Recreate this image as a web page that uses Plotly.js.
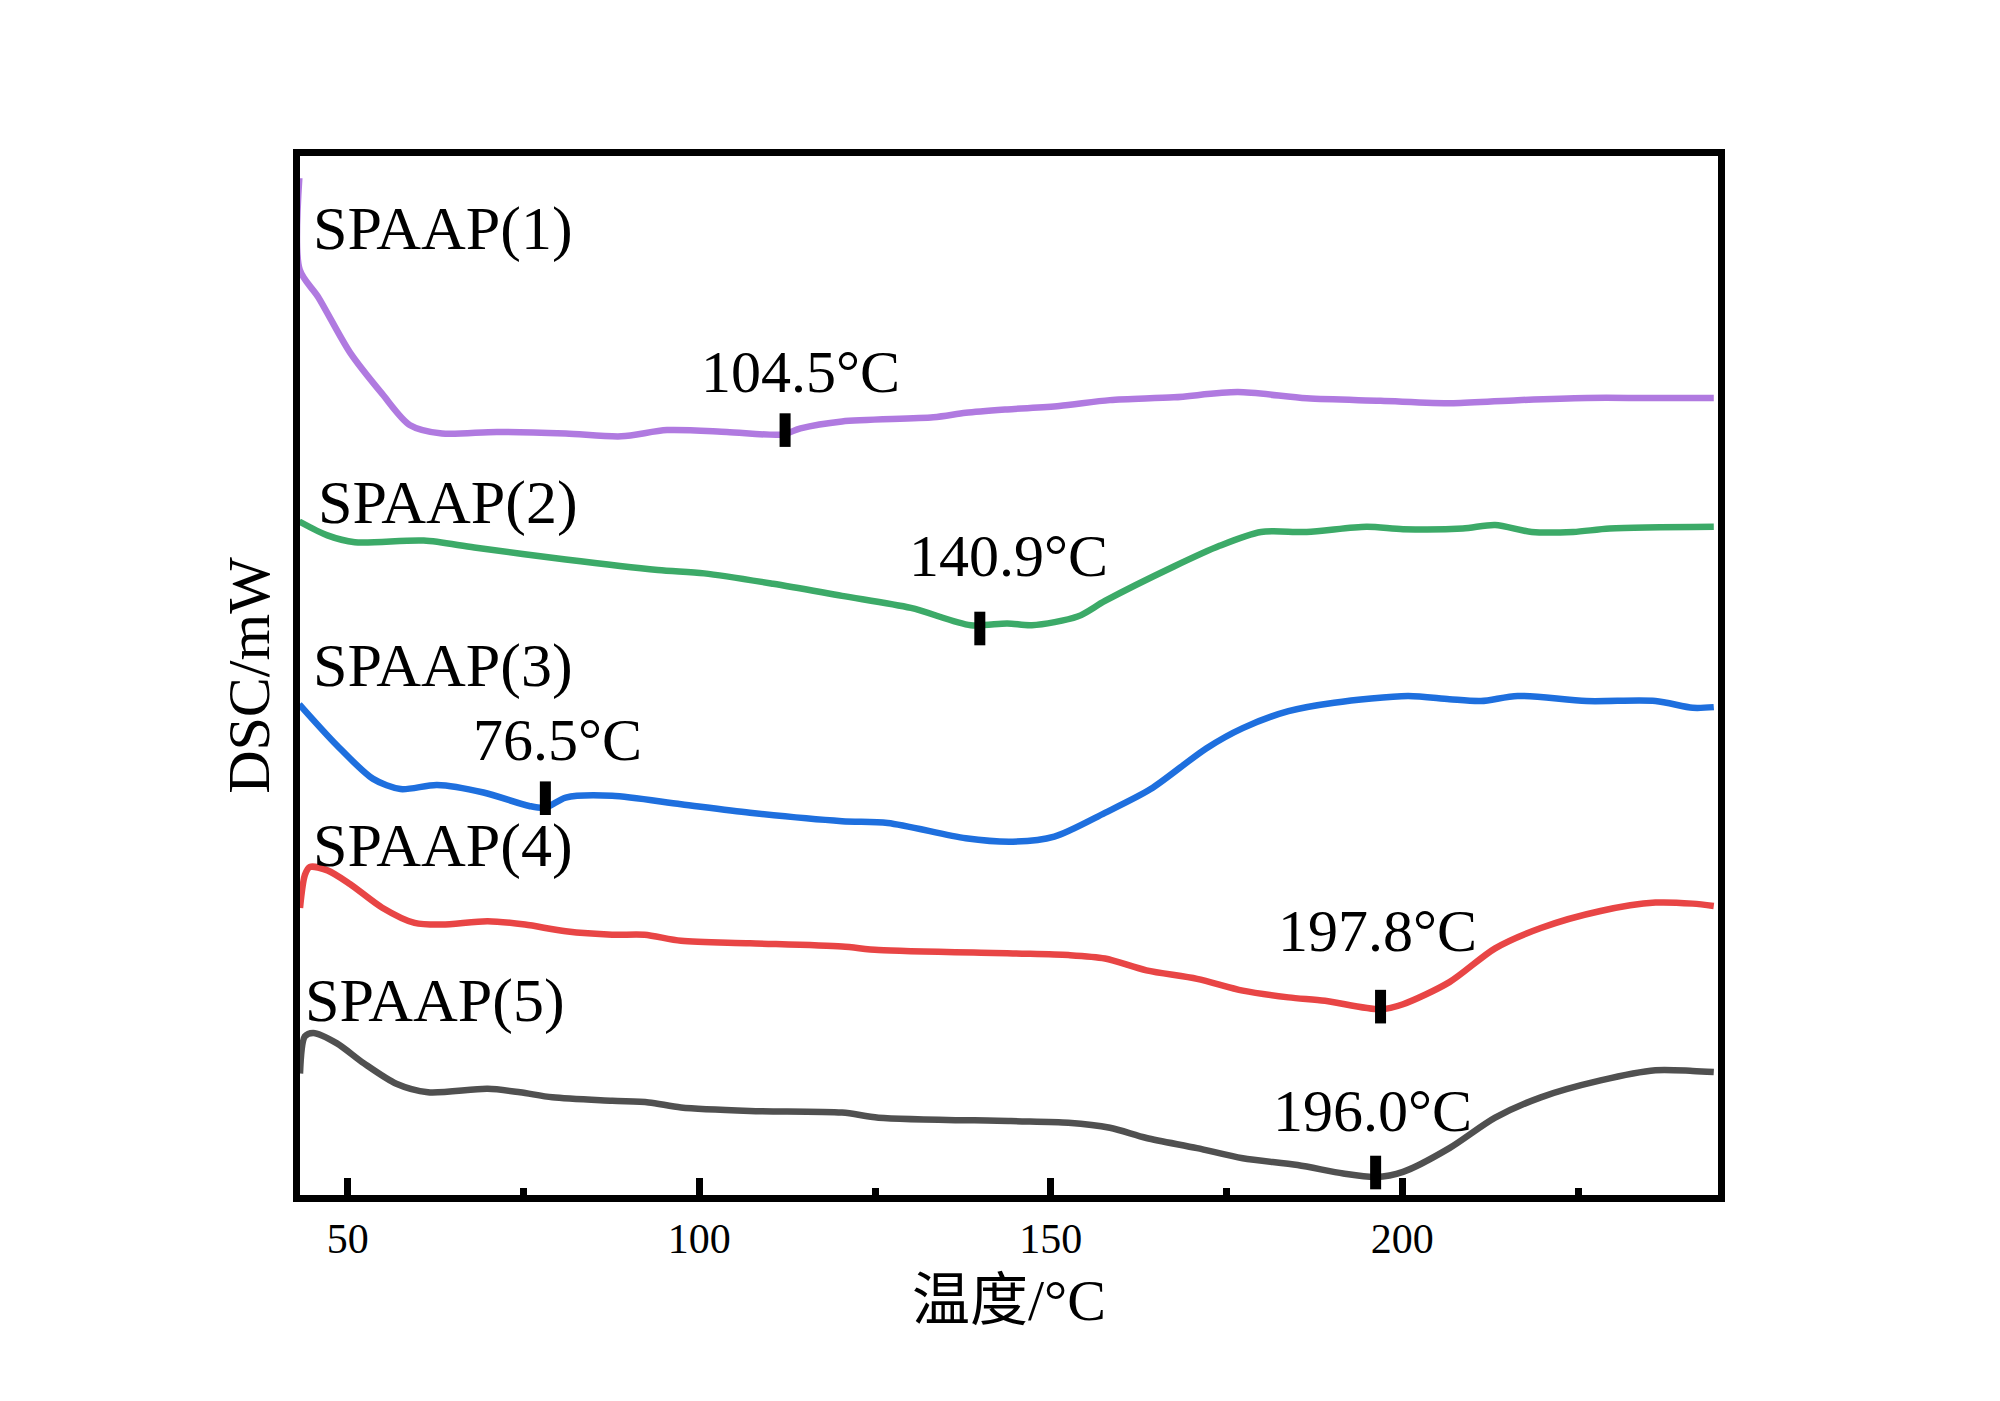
<!DOCTYPE html>
<html>
<head>
<meta charset="utf-8">
<script src="https://cdn.plot.ly/plotly-3.0.1.min.js"></script>
<style>html,body{margin:0;padding:0;background:#fff;}#chart{width:2000px;height:1401px;}</style>
</head>
<body>
<div id="chart"></div>
<script>
// Temperature (°C) and DSC signal (arbitrary offset units)
const t1 = [43.1,43.15,45.8,50.3,54.9,58.8,63.4,71.2,81.0,88.9,95.4,103.9,111.8,114.4,120.3,133.3,137.9,143.8,151.2,158.4,167.5,176.6,186.4,196.9,207.3,216.4,226.2,234.7,244.3];
const s1 = [800.6,728.6,706.8,663.4,630.7,606.3,599.5,600.8,599.5,597.3,602.2,600.8,598.7,603.6,609.0,612.3,615.8,618.5,621.2,625.8,628.0,632.1,627.2,625.3,623.4,625.8,627.5,627.5,627.5];

const t2 = [43.1,47.1,51.0,60.8,68.0,81.0,94.1,100.7,110.5,120.3,130.1,138.6,143.8,147.3,153.8,157.7,167.5,174.0,179.9,186.4,194.9,200.1,208.6,213.2,218.4,224.3,229.5,244.3];
const s2 = [530.2,519.3,513.9,515.2,509.8,500.3,492.1,489.4,481.2,471.7,462.2,448.6,450.0,448.6,455.4,467.7,494.8,511.1,522.0,522.0,526.1,524.2,524.7,527.5,522.0,522.0,524.7,526.1];

const t3 = [43.1,48.4,53.6,57.5,62.7,69.3,75.8,78.1,81.0,87.6,97.4,107.2,120.3,126.8,137.9,144.6,150.5,157.7,164.2,172.1,177.3,183.8,190.3,200.8,206.7,211.2,216.4,226.2,236.0,241.3,244.3];
const s3 = [386.3,354.3,327.6,319.6,322.8,316.9,306.3,304.9,312.9,314.3,307.6,300.9,294.3,292.9,280.9,278.2,282.2,300.9,319.6,351.6,367.6,380.9,387.6,392.9,390.3,388.9,392.9,388.9,388.9,383.6,384.1];

const t4 = [43.2,43.9,44.6,47.1,50.3,54.9,59.5,63.4,69.9,75.2,81.0,87.6,92.2,97.4,107.2,120.3,125.5,144.6,152.5,157.7,163.6,170.8,177.3,183.8,189.0,196.9,200.1,206.7,213.2,219.7,228.2,236.0,241.3,244.3];
const s4 = [226.0,252.0,258.2,255.6,244.9,226.2,214.2,212.9,215.6,212.9,207.6,204.9,204.9,200.1,198.2,195.6,192.9,190.2,188.9,186.2,176.9,170.2,160.9,155.6,152.9,146.2,150.2,167.6,194.2,210.2,223.6,230.2,229.4,227.6];

const t5 = [43.2,43.9,45.1,48.4,52.3,56.9,61.4,69.9,74.5,79.1,87.6,92.8,97.4,107.2,120.3,125.5,144.3,152.5,158.4,163.6,170.8,177.3,185.1,191.6,196.2,200.1,206.7,213.2,219.7,228.2,236.0,241.3,244.3];
const s5 = [95.6,124.9,127.6,119.6,103.6,87.6,80.9,83.6,80.9,76.9,74.2,72.9,68.9,66.2,64.9,60.9,58.2,56.9,52.9,44.9,36.9,28.9,23.6,16.9,14.2,18.2,36.9,60.9,76.9,90.2,98.2,97.7,96.9];

const seriesNames = ["SPAAP(1)","SPAAP(2)","SPAAP(3)","SPAAP(4)","SPAAP(5)"];
const seriesColors = ["#b07ae0","#3caa68","#1e6fde","#e84545","#505050"];

// Marked points on each curve
const markT = [112.2,139.9,78.1,196.9,196.2];
const markS = [602.2,446.0,312.4,148.3,17.7];
const markLabels = ["104.5°C","140.9°C","76.5°C","197.8°C","196.0°C"];
const markLabelT = [114.4,144.0,79.8,196.5,195.7];
const markLabelS = [648,503,358,208,66];

// Series name labels
const nameT = [44.7,45.5,44.7,44.7,43.6];
const nameS = [761,545,417,275,153];

const xTicks = [50,100,150,200];

const xs = [t1,t2,t3,t4,t5];
const ys = [s1,s2,s3,s4,s5];
const traces = xs.map((x,i)=>({
  x:x, y:ys[i], type:'scatter', mode:'lines', name:seriesNames[i],
  line:{color:seriesColors[i], width:6.5, shape:'spline', smoothing:0.8},
  hoverinfo:'skip'
}));
traces.push({
  x:markT, y:markS, type:'scatter', mode:'markers',
  marker:{symbol:'line-ns', size:24, color:'#000', line:{color:'#000', width:11}},
  hoverinfo:'skip'
});

const font = "Liberation Serif, Times New Roman, Noto Sans CJK SC, serif";
const annotations = [];
seriesNames.forEach((n,i)=>annotations.push({
  x:nameT[i], y:nameS[i], xref:'x', yref:'y', text:n, showarrow:false,
  xanchor:'left', yanchor:'middle', font:{family:font, size:62, color:'#000'}
}));
markLabels.forEach((n,i)=>annotations.push({
  x:markLabelT[i], y:markLabelS[i], xref:'x', yref:'y', text:n, showarrow:false,
  xanchor:'center', yanchor:'middle', font:{family:font, size:60, color:'#000'}
}));

const layout = {
  width:2000, height:1401,
  margin:{l:300, r:282, t:156, b:206},
  paper_bgcolor:'#fff', plot_bgcolor:'#fff',
  showlegend:false,
  font:{family:font, color:'#000'},
  xaxis:{
    range:[43.2,244.9], showgrid:false, zeroline:false,
    showline:true, mirror:true, linecolor:'#000', linewidth:7,
    tickmode:'array', tickvals:xTicks, ticktext:xTicks.map(String),
    ticks:'inside', ticklen:17, tickwidth:7, tickcolor:'#000',
    minor:{tickmode:'linear', tick0:25, dtick:25, ticks:'inside', ticklen:7, tickwidth:7, tickcolor:'#000', showgrid:false},
    tickfont:{family:font, size:42, color:'#000'},
    ticklabelstandoff:1,
    title:{text:'温度/°C', font:{family:font, size:58, color:'#000'}, standoff:20}
  },
  yaxis:{
    range:[0,818], showgrid:false, zeroline:false,
    showline:true, mirror:true, linecolor:'#000', linewidth:7,
    showticklabels:false, ticks:'',
    title:{text:'DSC/mW', font:{family:font, size:60, color:'#000'}, standoff:7}
  },
  annotations:annotations
};

Plotly.newPlot('chart', traces, layout, {staticPlot:true, displayModeBar:false});
</script>
</body>
</html>
